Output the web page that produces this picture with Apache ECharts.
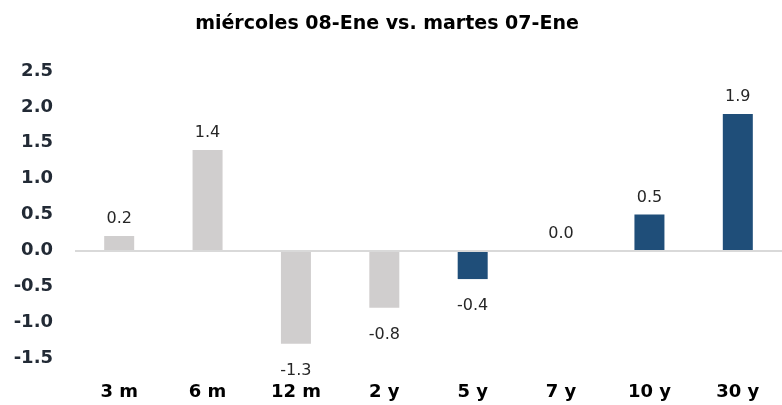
<!DOCTYPE html>
<html>
<head>
<meta charset="utf-8">
<script src="https://cdn.jsdelivr.net/npm/echarts@6/dist/echarts.min.js"></script>
<style>
html,body{margin:0;padding:0;background:#fff;}
#c{width:782px;height:405px;}
</style>
</head>
<body>
<div id="c"></div>
<script>
var title = 'miércoles 08-Ene vs. martes 07-Ene';
var categories = ['3 m', '6 m', '12 m', '2 y', '5 y', '7 y', '10 y', '30 y'];
var values = [0.2, 1.4, -1.3, -0.8, -0.4, 0.0, 0.5, 1.9];
var yTicks = [-1.5, -1.0, -0.5, 0.0, 0.5, 1.0, 1.5, 2.0, 2.5];

var GRAY = '#D0CECE', BLUE = '#1F4E79';
var FONT = 'DejaVu Sans';
var chart = echarts.init(document.getElementById('c'));
chart.setOption({
  animation: false,
  title: {
    text: title, left: 382, top: 10, textAlign: 'center',
    textStyle: {fontFamily: FONT, fontWeight: 'bold', fontSize: 19, color: '#000'}
  },
  grid: {left: 75, right: -2, top: 71, bottom: 47, containLabel: false},
  xAxis: {
    type: 'category', data: categories,
    axisLine: {show: false, onZero: false},
    axisTick: {show: false},
    axisLabel: {margin: 25, fontFamily: FONT, fontWeight: 'bold', fontSize: 18, color: '#000'}
  },
  yAxis: {
    type: 'value', min: yTicks[0], max: yTicks[yTicks.length - 1], interval: 0.5,
    splitLine: {show: false},
    axisLine: {show: false}, axisTick: {show: false},
    axisLabel: {margin: 22, fontFamily: FONT, fontWeight: 'bold', fontSize: 18, color: '#222A35',
      formatter: function (v) { return v.toFixed(1); }}
  },
  series: [{
    type: 'bar', barWidth: 30,
    data: values.map(function (v, i) {
      return {
        value: v,
        itemStyle: {color: i < 4 ? GRAY : BLUE},
        label: {position: v < 0 ? 'bottom' : 'top', distance: v < 0 ? 19 : 9}
      };
    }),
    label: {
      show: true, fontFamily: FONT, fontSize: 16, color: '#262626',
      formatter: function (p) { return p.value.toFixed(1); }
    },
    markLine: {
      silent: true, symbol: 'none', label: {show: false},
      lineStyle: {color: '#D9D9D9', width: 2, type: 'solid'},
      data: [{yAxis: 0}]
    },
    z: 3
  }]
});
</script>
</body>
</html>
